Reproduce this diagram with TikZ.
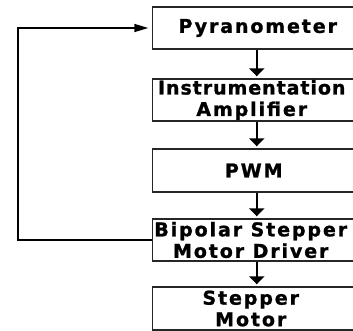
\documentclass[tikz,border=0pt]{standalone}
\usepackage{fontspec}
\usetikzlibrary{arrows.meta}
\newfontfamily\lblfont[LetterSpace=10, BoldFeatures={FakeBold=1.2}]{DejaVu Sans}
\newfontfamily\lblfonttight[LetterSpace=5, BoldFeatures={FakeBold=1.2}]{DejaVu Sans}
\begin{document}
\begin{tikzpicture}[x=1pt,y=-1pt,
  blk/.style={draw=black!85, line width=1.4pt, minimum width=208.5pt, inner sep=0pt},
  lbl/.style={font=\lblfont\bfseries\fontsize{19pt}{21.5pt}\selectfont, align=center, inner sep=0pt},
  flow/.style={line width=2pt, -{Triangle[length=8pt,width=15pt]}, shorten >=2pt},
  fbline/.style={line width=1.5pt, -{Triangle[length=14pt,width=8pt]}, shorten >=3.5pt}]
\useasboundingbox (0,0) rectangle (353,331);
\node[blk, minimum height=42pt] (p) at (256.75,28) {};
\node[blk, minimum height=42pt] (ia) at (256.75,100) {};
\node[blk, minimum height=43pt] (pwm) at (256.75,170.5) {};
\node[blk, minimum height=42pt] (drv) at (256.75,240) {};
\node[blk, minimum height=43pt] (sm) at (256.75,308.5) {};
\node[lbl] (tp) at ([xshift=1pt]p.center) {Pyranometer};
\node[lbl] (tia) at ([xshift=-5pt]ia.center) {{\lblfonttight\bfseries Instrumentation}\\Amplifier};
\node[lbl] (tpwm) at ([xshift=-3pt]pwm.center) {PWM};
\node[lbl] (tdrv) at ([xshift=-6pt]drv.center) {Bipolar Stepper\\Motor Driver};
\node[lbl] (tsm) at ([xshift=-6pt]sm.center) {Stepper\\Motor};
\draw[flow] (p.south) -- (ia.north);
\draw[flow] (ia.south) -- (pwm.north);
\draw[flow] (pwm.south) -- (drv.north);
\draw[flow] (drv.south) -- (sm.north);
\coordinate (fb) at (18,0);
\draw[fbline] (drv.west) -- (drv.west -| fb) |- (p.west);
\end{tikzpicture}
\end{document}
